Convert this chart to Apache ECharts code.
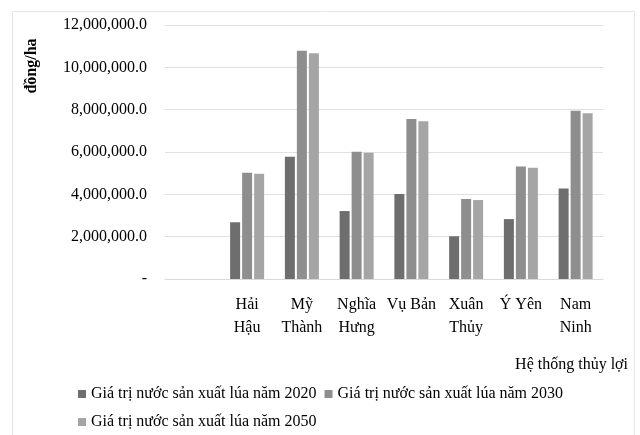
<!DOCTYPE html>
<html><head><meta charset="utf-8">
<script src="https://cdn.jsdelivr.net/npm/echarts@6/dist/echarts.min.js"></script>
<style>html,body{margin:0;padding:0;background:#fff}#c{width:640px;height:435px}</style>
</head><body><div id="c"></div>
<script>
const categories = ['', 'Hải\nHậu', 'Mỹ\nThành', 'Nghĩa\nHưng', 'Vụ Bản', 'Xuân\nThủy', 'Ý Yên', 'Nam\nNinh'];
const seriesNames = ['Giá trị nước sản xuất lúa năm 2020', 'Giá trị nước sản xuất lúa năm 2030', 'Giá trị nước sản xuất lúa năm 2050'];
const values2020 = [null, 2680000, 5780000, 3210000, 4020000, 2020000, 2830000, 4270000];
const values2030 = [null, 5020000, 10780000, 6010000, 7560000, 3780000, 5310000, 7950000];
const values2050 = [null, 4970000, 10660000, 5970000, 7450000, 3730000, 5260000, 7830000];
const colors = ['#6e6e6e', '#8e8e8e', '#a5a5a5'];
const FONT = 'Liberation Serif';

function fmt(v) {
  if (v === 0) return '-';
  return v.toString().replace(/\B(?=(\d{3})+(?!\d))/g, ',') + '.0';
}

const chart = echarts.init(document.getElementById('c'));
const allVals = [values2020, values2030, values2050];
chart.setOption({
  animation: false,
  textStyle: { fontFamily: FONT, color: '#000' },
  grid: { left: 165, right: 37, top: 25, bottom: 156 },
  xAxis: {
    type: 'category', data: categories,
    axisLine: { lineStyle: { color: '#d9d9d9' } },
    axisTick: { show: false },
    axisLabel: { fontFamily: FONT, fontSize: 16, color: '#000', lineHeight: 23, margin: 14, interval: 0 }
  },
  yAxis: {
    type: 'value', min: 0, max: 12000000, interval: 2000000,
    axisLine: { show: false }, axisTick: { show: false },
    splitLine: { lineStyle: { color: '#e0e0e0' } },
    axisLabel: { fontFamily: FONT, fontSize: 16, color: '#000', margin: 18, formatter: fmt }
  },
  legend: [
    { data: [seriesNames[0], seriesNames[1]], left: 73, top: 381, itemWidth: 8, itemHeight: 8, itemGap: 8,
      icon: 'rect', textStyle: { fontFamily: FONT, fontSize: 16, color: '#000' } },
    { data: [seriesNames[2]], left: 73, top: 409, itemWidth: 8, itemHeight: 8,
      icon: 'rect', textStyle: { fontFamily: FONT, fontSize: 16, color: '#000' } }
  ],
  graphic: [
    { type: 'rect', shape: { x: 12.5, y: 11.5, width: 622, height: 440 }, style: { fill: 'none', stroke: '#e6e6e6', lineWidth: 1 } },
    { type: 'text', x: 32, y: 66, rotation: Math.PI / 2,
      style: { text: 'đồng/ha', font: 'bold 16px "Liberation Serif"', fill: '#000', align: 'center', verticalAlign: 'middle' } },
    { type: 'text', right: 12, top: 357,
      style: { text: 'Hệ thống thủy lợi', font: '16px "Liberation Serif"', fill: '#000' } }
  ],
  series: seriesNames.map((n, i) => ({
    name: n, type: 'bar', data: allVals[i], barWidth: 10, barGap: '20%',
    itemStyle: { color: colors[i] }
  }))
});
</script></body></html>
